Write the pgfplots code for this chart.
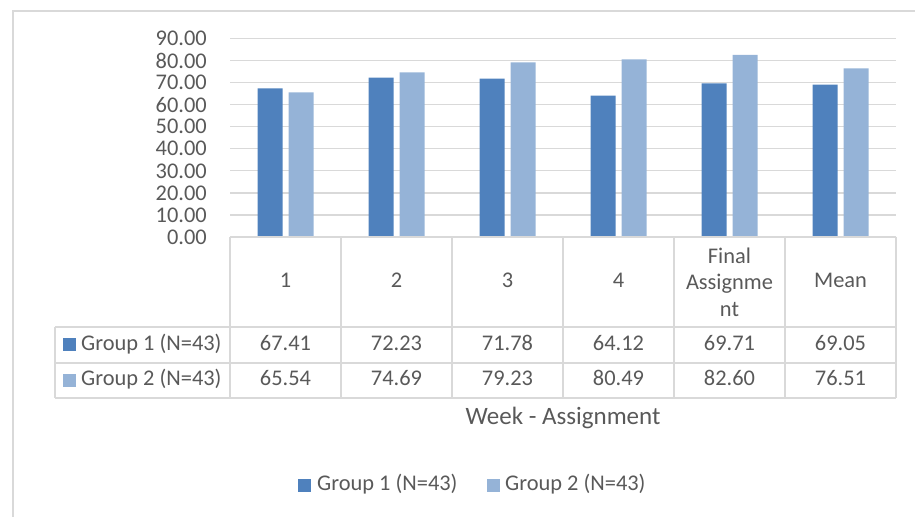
\documentclass[border=0pt]{standalone}
\usepackage{fontspec}
\setmainfont{Carlito}
\usepackage{pgfplots}
\pgfplotsset{compat=1.18}
\definecolor{gA}{HTML}{4F81BD}
\definecolor{gB}{HTML}{95B3D7}
\definecolor{txt}{HTML}{595959}
\definecolor{grd}{HTML}{D9D9D9}
\newcommand{\tf}{\fontsize{22.4bp}{26.5bp}\selectfont}
\begin{document}
\tf
\begin{tikzpicture}
\useasboundingbox (0,0) rectangle (915bp,517bp);
\begin{axis}[
  at={(230bp,280bp)}, anchor=south west, scale only axis,
  width=666bp, height=198.5bp,
  ymin=0, ymax=90, ytick={0,10,...,90},
  xmin=-0.5, xmax=5.5, xtick=\empty,
  ybar=6bp, bar width=25bp,
  axis line style={draw=none},
  ymajorgrids, grid style={grd, line width=1.3bp},
  major tick length=0pt,
  yticklabel style={anchor=east, inner sep=0pt, xshift=-23bp, font=\tf, text=txt},
  /pgf/number format/fixed,
  /pgf/number format/fixed zerofill,
  /pgf/number format/precision=2,
  /pgf/number format/assume math mode=true,
  /pgf/number format/1000 sep={},
]
\addplot[fill=gA, draw=none] coordinates {(0,67.41) (1,72.23) (2,71.78) (3,64.12) (4,69.71) (5,69.05)};
\addplot[fill=gB, draw=none] coordinates {(0,65.54) (1,74.69) (2,79.23) (3,80.49) (4,82.60) (5,76.51)};
\end{axis}
\begin{scope}[x=1bp, y=-1bp, shift={(0bp,517bp)}]
  % outer border
  \draw[grd, line width=2bp] (13,517) -- (13,11) -- (915,11);
  % table lines
  \draw[grd, line width=1.4bp] (230,237) -- (896,237);
  \foreach \yy in {327,363,398} \draw[grd, line width=1.4bp] (55,\yy) -- (896,\yy);
  \foreach \xx in {230,341,452,563,674,785,896} \draw[grd, line width=1.4bp] (\xx,237) -- (\xx,398);
  \draw[grd, line width=1.4bp] (55,327) -- (55,398);
  % header
  \foreach \xx/\lab in {285.5/1, 396.5/2, 507.5/3, 618.5/4, 840.5/Mean}
    \node[text=txt, font=\tf, inner sep=0pt] at (\xx,282) {\strut\lab};
  \node[text=txt, font=\tf, inner sep=0pt, align=center] at (729.5,282) {Final\\Assignme\\nt};
  % rows
  \foreach \xx/\va/\vb in {285.5/67.41/65.54, 396.5/72.23/74.69, 507.5/71.78/79.23, 618.5/64.12/80.49, 729.5/69.71/82.60, 840.5/69.05/76.51} {
    \node[text=txt, font=\tf, inner sep=0pt] at (\xx,345) {\strut\va};
    \node[text=txt, font=\tf, inner sep=0pt] at (\xx,380.5) {\strut\vb};
  }
  \fill[gA] (63,338.5) rectangle (76,351.5);
  \fill[gB] (63,374) rectangle (76,387);
  \node[text=txt, font=\tf, inner sep=0pt, anchor=west] at (81,345) {\strut Group 1 (N=43)};
  \node[text=txt, font=\tf, inner sep=0pt, anchor=west] at (81,380.5) {\strut Group 2 (N=43)};
  % axis title
  \node[text=txt, font=\fontsize{25bp}{30bp}\selectfont, inner sep=0pt] at (563,419) {\strut Week - Assignment};
  % legend
  \fill[gA] (298,479) rectangle (311,492);
  \node[text=txt, font=\tf, inner sep=0pt, anchor=west] at (317,485.5) {\strut Group 1 (N=43)};
  \fill[gB] (487,479) rectangle (500,492);
  \node[text=txt, font=\tf, inner sep=0pt, anchor=west] at (505,485.5) {\strut Group 2 (N=43)};
\end{scope}
\end{tikzpicture}
\end{document}
